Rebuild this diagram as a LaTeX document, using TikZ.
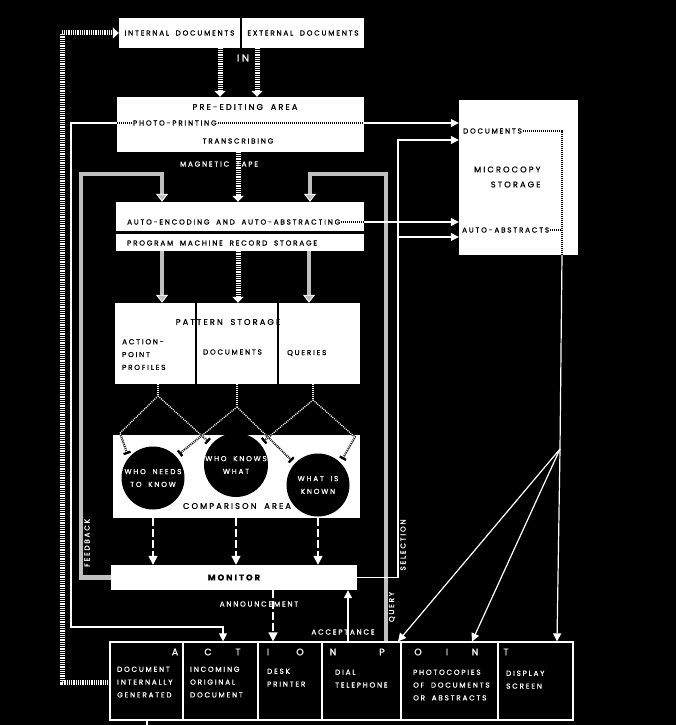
\documentclass[tikz,border=0pt]{standalone}
\usepackage{fontspec}
\setmainfont{Poppins}[LetterSpace=25, FakeBold=1, WordSpace=1.8]
\usetikzlibrary{arrows.meta, positioning, calc}
\newcommand\smalltag{\fontsize{7.2}{12.8}\selectfont}
\newcommand\headtag{\fontsize{8.3}{10}\selectfont}
\newcommand\bigletter{\fontsize{9.5}{10}\selectfont}

\begin{document}
\begin{tikzpicture}[x=1pt, y=-1pt,
    box/.style={fill=white, inner sep=0pt, text=black, font=\smalltag},
    apcol/.style={draw=white, fill=black, line width=1.2pt,
                  minimum height=78pt, inner sep=0pt},
    disc/.style={circle, fill=black, minimum size=63pt, inner sep=0pt,
                 text=white, align=center, font=\smalltag},
    note/.style={text=white, font=\smalltag},
    aptext/.style={text=white, font=\smalltag, align=left, anchor=north west, inner sep=0pt},
    wire/.style={draw=white, line width=1.2pt},
    arr/.style={-{Triangle[width=8pt,length=8pt]}},
    dasharr/.style={draw=white, line width=1.6pt, dash pattern=on 8pt off 3pt,
                    -{Triangle[width=9pt,length=9pt]}},
    tape/.style={draw=white, line width=5pt, dash pattern=on 0.9pt off 0.9pt,
                 -{Triangle[width=11pt,length=6pt]}},
    hatch/.style={draw=gray!50, line width=4.5pt,
                  -{Triangle[width=12pt,length=8pt,color=white,fill=gray!50,line width=0.8pt]}},
    dots/.style={draw=white, line width=1.3pt, dash pattern=on 1pt off 1pt,
                 preaction={draw=black, line width=1.8pt}},
    endbars/.style={-{Bar[width=7pt,line width=1pt,color=black] Bar[width=7pt,line width=1pt,color=black]},
                    shorten >=4pt},
    indots/.style={draw=black, line width=1.3pt, dash pattern=on 1pt off 1pt}
  ]
  \useasboundingbox (0,0) rectangle (676,725);
  \fill[black] (0,0) rectangle (676,725);

  % input documents
  \node[box, minimum width=121pt, minimum height=30pt] (intdoc) at (179.5,33) {INTERNAL DOCUMENTS};
  \node[box, minimum width=122pt, minimum height=30pt] (extdoc) at (303,33) {EXTERNAL DOCUMENTS};

  % pre-editing
  \node[box, minimum width=247pt, minimum height=55pt] (preedit) at (240.5,124.5) {};
  \node[font=\headtag] at (245,107) {PRE-EDITING AREA};
  \node[font=\smalltag, anchor=west, inner sep=1pt] (photo) at (132,123) {PHOTO-PRINTING};
  \node[font=\smalltag] at (238,141) {TRANSCRIBING};
  \draw[indots] (preedit.west |- photo) -- (photo.west);
  \draw[indots] (photo.east) -- (preedit.east |- photo);

  % microcopy storage
  \node[box, minimum width=119pt, minimum height=155pt] (micro) at (518.5,177.5) {};
  \node[font=\smalltag, anchor=west, inner sep=1pt] (mdoc) at (462,131) {DOCUMENTS};
  \node[font=\headtag, align=right, anchor=east] at (544,177) {MICROCOPY\\[5pt]STORAGE};
  \node[font=\smalltag, anchor=west, inner sep=1pt] (mabs) at (461,230) {AUTO-ABSTRACTS};
  \draw[indots] (mdoc.east) -| (micro.south -| 562,0);
  \draw[indots] (mabs.east) -- (562,0 |- mabs.east);

  % encoding
  \node[box, minimum width=248pt, minimum height=29pt] (autoenc) at (240,216.5) {};
  \node[box, minimum width=248pt, minimum height=17pt] (progstore) at (240,242) {};
  \node[font=\smalltag, anchor=west, inner sep=1pt] (autotxt) at (126,222) {AUTO-ENCODING AND AUTO-ABSTRACTING};
  \node[font=\smalltag, anchor=west, inner sep=1pt] at (126,243) {PROGRAM MACHINE RECORD STORAGE};
  \draw[indots] (autotxt.east) -- (autoenc.east |- autotxt);

  % pattern storage
  \node[box, minimum width=80pt, minimum height=81pt] (pat1) at (155,343.5) {};
  \node[box, minimum width=80pt, minimum height=81pt] (pat2) at (237,343.5) {};
  \node[box, minimum width=81pt, minimum height=81pt] (pat3) at (319.5,343.5) {};
  \node[font=\headtag] at (228,322) {PATTERN STORAGE};
  \node[font=\smalltag, align=left, anchor=north west, inner sep=0pt] at (122,339) {ACTION-\\POINT\\PROFILES};
  \node[font=\smalltag, anchor=west, inner sep=0pt] at (203,352) {DOCUMENTS};
  \node[font=\smalltag, anchor=west, inner sep=0pt] at (287,353) {QUERIES};

  % comparison area
  \node[box, minimum width=247pt, minimum height=83pt] (compare) at (236.5,476.5) {};
  \node[disc] (c1) at (153,478) {WHO NEEDS\\TO KNOW};
  \node[disc] (c2) at (236,465) {WHO KNOWS\\WHAT};
  \node[disc] (c3) at (318,485) {WHAT IS\\KNOWN};
  \node[font=\headtag] at (237,506) {COMPARISON AREA};

  % monitor
  \node[box, minimum width=246pt, minimum height=25pt, font=\headtag\bfseries] (monitor) at (234,577.5) {MONITOR};

  % action point
  \node[apcol, minimum width=73pt] (ap1) at (146.5,681) {};
  \node[apcol, minimum width=75pt] (ap2) at (220.5,681) {};
  \node[apcol, minimum width=64pt] (ap3) at (290,681) {};
  \node[apcol, minimum width=79pt] (ap4) at (361.5,681) {};
  \node[apcol, minimum width=97pt] (ap5) at (449.5,681) {};
  \node[apcol, minimum width=75pt] (ap6) at (535.5,681) {};
  \node[text=white, font=\bigletter] at (175,652) {A};
  \node[text=white, font=\bigletter] at (208,652) {C};
  \node[text=white, font=\bigletter] at (238,652) {T};
  \node[text=white, font=\bigletter] at (268,652) {I};
  \node[text=white, font=\bigletter] at (300,652) {O};
  \node[text=white, font=\bigletter] at (333,652) {N};
  \node[text=white, font=\bigletter] at (382,652) {P};
  \node[text=white, font=\bigletter] at (418,652) {O};
  \node[text=white, font=\bigletter] at (447,652) {I};
  \node[text=white, font=\bigletter] at (475,652) {N};
  \node[text=white, font=\bigletter] at (506,652) {T};
  \node[aptext] at (117,666.5) {DOCUMENT\\INTERNALLY\\GENERATED};
  \node[aptext] at (190,666.5) {INCOMING\\ORIGINAL\\DOCUMENT};
  \node[aptext] at (267,668.5) {DESK\\PRINTER};
  \node[aptext] at (335,669.5) {DIAL\\TELEPHONE};
  \node[aptext] at (413,669.5) {PHOTOCOPIES\\OF DOCUMENTS\\OR ABSTRACTS};
  \node[aptext] at (506,670.5) {DISPLAY\\SCREEN};

  % flow lines
  \draw[tape] (intdoc.south -| 220,0) -- (preedit.north -| 220,0);
  \draw[tape] (extdoc.south -| 257,0) -- (preedit.north -| 257,0);
  \node[text=white, font=\fontsize{10}{11}\selectfont] at (243,58) {IN};
  \node[note] at (219,164) {MAGNETIC TAPE};
  \draw[tape] (preedit.south -| 238,0) -- (autoenc.north -| 238,0);
  \draw[hatch] (progstore.south -| 162,0) -- (pat1.north -| 162,0);
  \draw[tape] (progstore.south -| 238,0) -- (pat2.north -| 238,0);
  \draw[hatch] (progstore.south -| 309,0) -- (pat3.north -| 309,0);
  \draw[hatch] (monitor.west) -| (81,174) -| (autoenc.north -| 162,0);
  \draw[hatch] (ap4.north -| 386,0) |- (310,174) -- (autoenc.north -| 310,0);
  \draw[tape] (ap1.west |- 0,682) -| (62,33) -- (intdoc.west);

  \draw[wire, arr] (preedit.west |- photo) -| (71,627) -| (ap2.north -| 223,0);
  \draw[wire, arr] (preedit.east |- photo) -- (micro.west |- photo);
  \draw[wire, arr] (autoenc.east |- autotxt) -- (micro.west |- autotxt);
  \draw[wire, arr] (monitor.east) -| (398,140) -- (micro.west |- 0,140);
  \coordinate (selsplit) at (398,237);
  \draw[wire, arr] (selsplit) -- (micro.west |- selsplit);

  \coordinate (fan) at (560,449);
  \draw[wire] (micro.south -| 562,0) -- (fan);
  \draw[wire, arr] (fan) -- (ap4.north -| 398,0);
  \draw[wire, arr] (fan) -- (ap5.north -| 472,0);
  \draw[wire, arr] (fan) -- (ap6.north -| 557,0);

  % pattern to comparison
  \coordinate (p1) at (158,396);
  \coordinate (p2) at (237,407);
  \coordinate (p3) at (313,400);
  \draw[dots] (pat1.south -| p1) -- (p1);
  \draw[dots] (pat2.south -| p2) -- (p2);
  \draw[dots] (pat3.south -| p3) -- (p3);
  \draw[dots, endbars] (p1) -- (120,433) -- (c1.140);
  \draw[dots, endbars] (p1) -- (c2.140);
  \draw[dots, endbars] (p2) -- (c1.43);
  \draw[dots, endbars] (p2) -- (c3.137);
  \draw[dots, endbars] (p3) -- (c2.41);
  \draw[dots, endbars] (p3) -- (355,437) -- (c3.45);

  \draw[dasharr] (compare.south -| c1) -- (monitor.north -| c1);
  \draw[dasharr] (compare.south -| c2) -- (monitor.north -| c2);
  \draw[dasharr] (compare.south -| c3) -- (monitor.north -| c3);

  \draw[dasharr] (monitor.south -| 273,0) -- (ap3.north -| 273,0);
  \node[note] at (259,604) {ANNOUNCEMENT};
  \draw[wire, arr] (ap4.north -| 348,0) -- (monitor.south -| 348,0);
  \node[note] at (343,632) {ACCEPTANCE};

  \node[note, rotate=90] at (87,543) {FEEDBACK};
  \node[note, rotate=90] at (392,607) {QUERY};
  \node[note, rotate=90] at (403,545) {SELECTION};

  \draw[wire] (ap1.south -| 147,0) -- (147,725);
\end{tikzpicture}
\end{document}
